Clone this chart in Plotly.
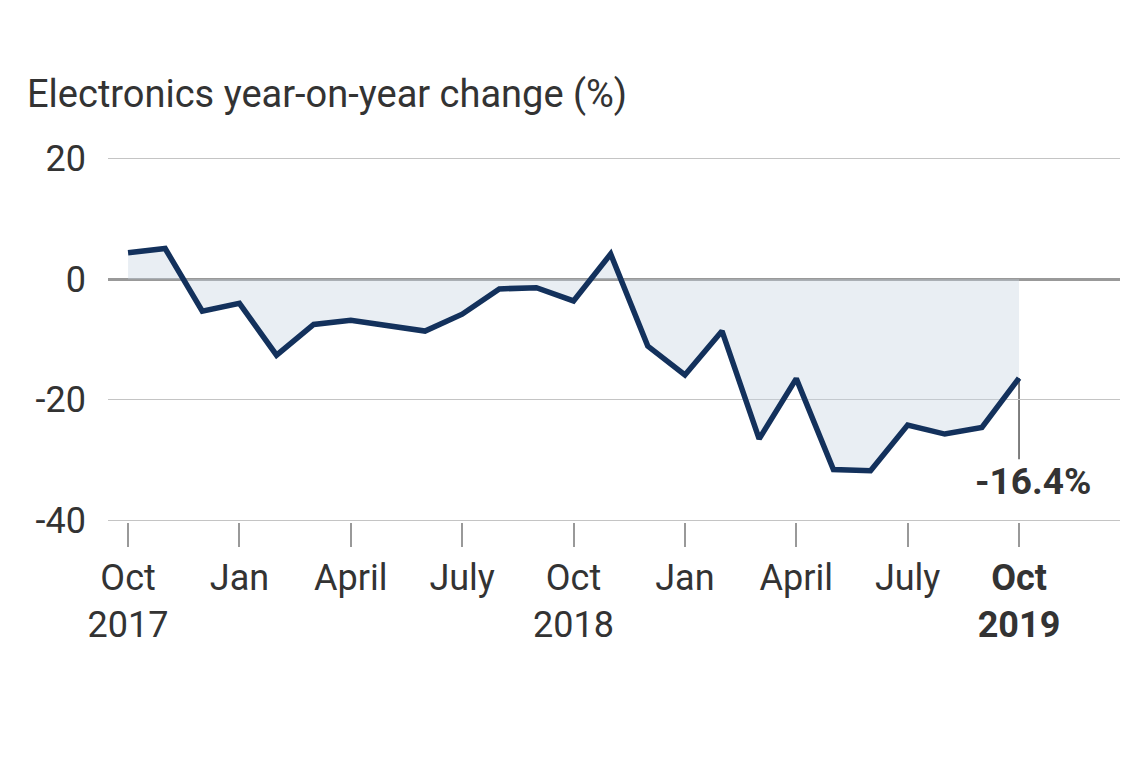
import plotly.graph_objects as go

months = ["2017-10", "2017-11", "2017-12", "2018-01", "2018-02", "2018-03", "2018-04",
          "2018-05", "2018-06", "2018-07", "2018-08", "2018-09", "2018-10", "2018-11",
          "2018-12", "2019-01", "2019-02", "2019-03", "2019-04", "2019-05", "2019-06",
          "2019-07", "2019-08", "2019-09", "2019-10"]
values = [4.4, 5.1, -5.3, -4.0, -12.6, -7.5, -6.8, -7.8, -8.6, -5.8, -1.6, -1.4, -3.6,
          4.2, -11.1, -15.9, -8.6, -26.5, -16.5, -31.6, -31.8, -24.2, -25.7, -24.6, -16.4]
tick_idx = [0, 3, 6, 9, 12, 15, 18, 21, 24]
tick_text = ["Oct<br>2017", "Jan", "April", "July", "Oct<br>2018", "Jan", "April", "July",
             "<b>Oct<br>2019</b>"]
y_ticks = [20, 0, -20, -40]
y_tick_text = ["20", "0", "-20", "-40"]
last_label = "-16.4%"
leader_length = 13.5  # length of the label leader line, in data units

x = list(range(len(months)))
FONT = "Roboto"
TXT = "#333333"

fig = go.Figure()
fig.add_trace(go.Scatter(
    x=x, y=values, mode="lines", fill="tozeroy",
    fillcolor="rgba(196,210,224,0.38)",
    line=dict(color="#13315c", width=5.5),
    hoverinfo="skip", showlegend=False,
))

fig.add_shape(type="line", xref="x", yref="y",
              x0=x[-1], x1=x[-1], y0=values[-1], y1=values[-1] - leader_length,
              line=dict(color="#555555", width=1.5), layer="below")

fig.add_annotation(
    x=x[-1], y=values[-1], xref="x", yref="y",
    text=f"<b>{last_label}</b>", showarrow=False,
    yanchor="top", xanchor="center", xshift=14, yshift=-80,
    font=dict(family=FONT, size=37, color=TXT),
)

fig.update_layout(
    width=1140, height=760,
    margin=dict(l=100, r=28, t=149, b=246),
    plot_bgcolor="white", paper_bgcolor="white",
    font=dict(family=FONT, color=TXT),
    title=dict(text="Electronics year-on-year change (%)", xref="container", yref="container",
               x=19 / 1140, xanchor="left", y=1 - 86 / 760, yanchor="middle",
               font=dict(family=FONT, size=38, color=TXT)),
    xaxis=dict(range=[-0.54, 26.72], tickvals=tick_idx, ticktext=tick_text,
               showgrid=False, zeroline=False, showline=False, automargin=False,
               ticks="outside", ticklen=24, tickwidth=1.5, tickcolor="#999999",
               tickfont=dict(family=FONT, size=36, color=TXT)),
    yaxis=dict(range=[-40.3, 20.3], tickvals=y_ticks, ticktext=y_tick_text, showgrid=True,
               gridcolor="#c4c4c4", gridwidth=1.3, automargin=False,
               zeroline=True, zerolinecolor="#999999", zerolinewidth=3,
               showline=False, ticks="", ticklabelstandoff=21,
               tickfont=dict(family=FONT, size=36, color=TXT)),
)

fig.write_html("out.html")
